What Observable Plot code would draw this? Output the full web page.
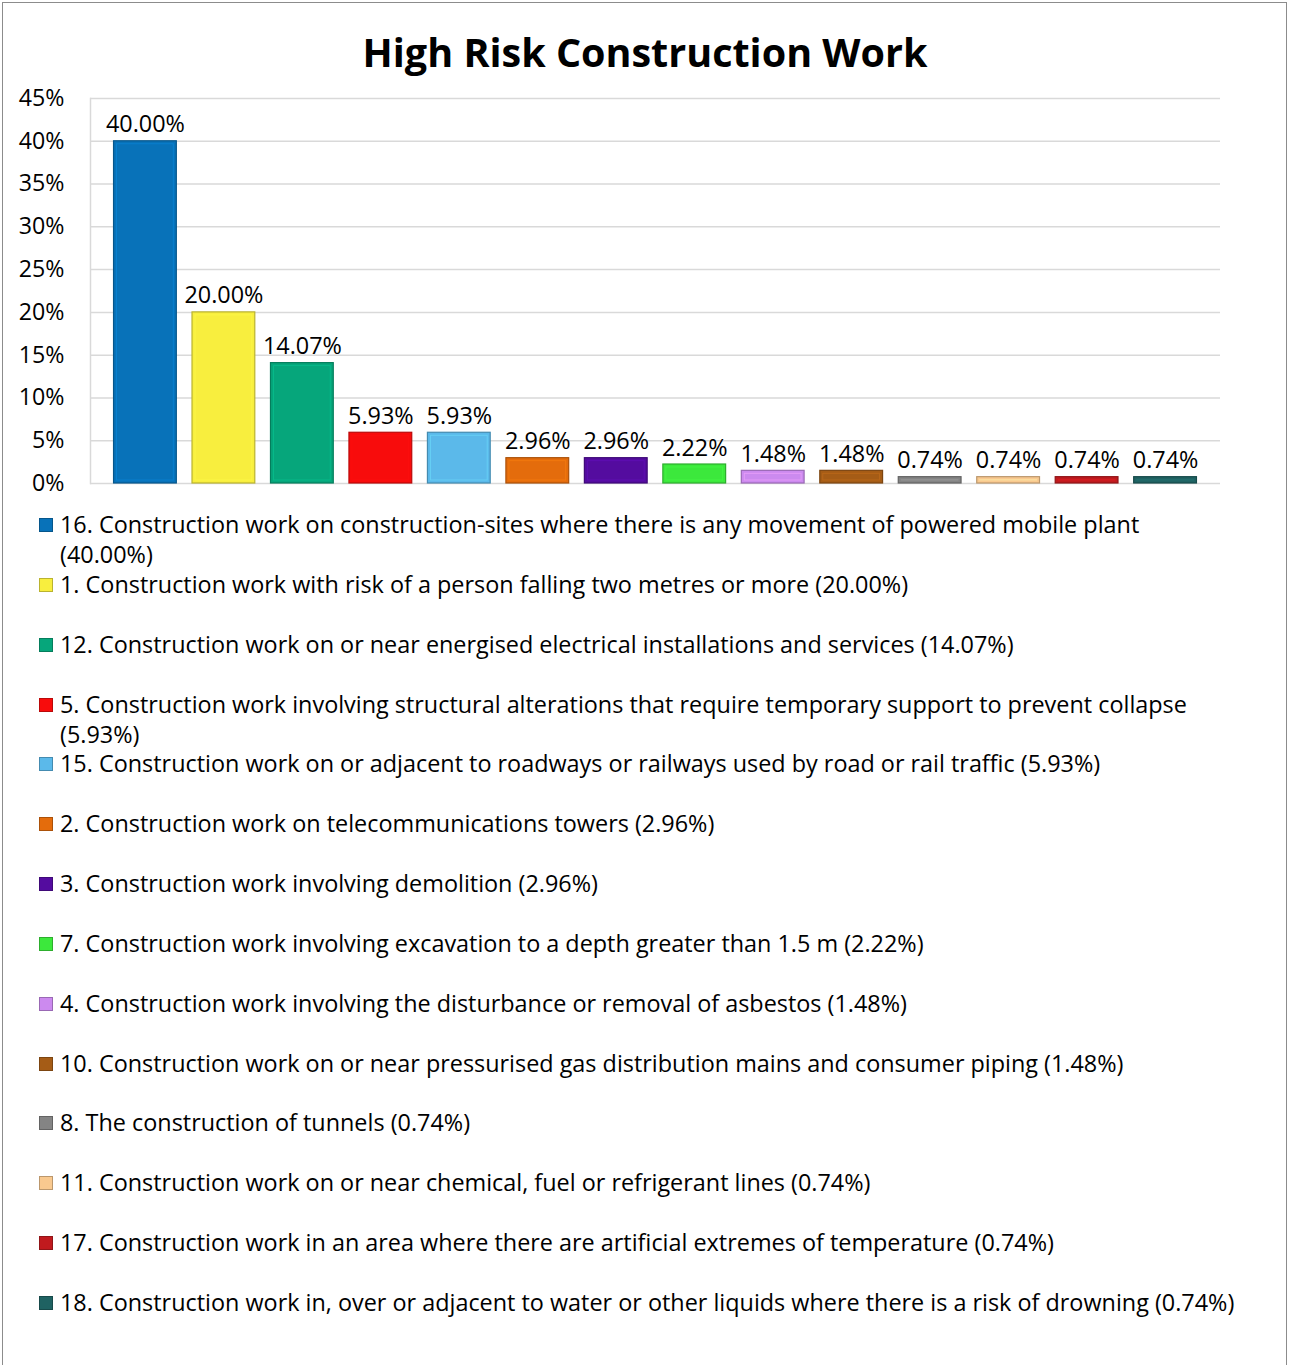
<!DOCTYPE html>
<html><head><meta charset="utf-8">
<script src="https://cdn.jsdelivr.net/npm/d3@7"></script>
<script src="https://cdn.jsdelivr.net/npm/@observablehq/plot@0.6"></script>
<style>
html,body{margin:0;padding:0;background:#fff;}
body{font-family:"Open Sans",Lato,sans-serif;color:#000;}
#page{position:relative;width:1290px;height:1365px;overflow:hidden;}
#box{position:absolute;left:2px;top:2px;width:1285px;height:1400px;border:1px solid #8c8c8c;box-sizing:border-box;}
#title{position:absolute;left:0;width:1290px;top:26px;text-align:center;font-weight:bold;font-size:39.5px;line-height:52px;}
#svgwrap{position:absolute;left:0;top:0;}
#legend{position:absolute;left:39px;top:509px;width:1230px;}
.item{position:relative;height:59.85px;}
.sw{position:absolute;left:0;top:9px;width:14px;height:14px;box-sizing:border-box;}
.txt{position:absolute;left:21px;top:0;width:1178px;font-size:23.4px;line-height:30px;}
</style>
</head><body>
<div id="page">
  <div id="box"></div>
  <div id="title">High Risk Construction Work</div>
  <div id="svgwrap"></div>
  <div id="legend"></div>
</div>
<script>
const categories = [
  "16. Construction work on construction-sites where there is any movement of powered mobile plant",
  "1. Construction work with risk of a person falling two metres or more",
  "12. Construction work on or near energised electrical installations and services",
  "5. Construction work involving structural alterations that require temporary support to prevent collapse",
  "15. Construction work on or adjacent to roadways or railways used by road or rail traffic",
  "2. Construction work on telecommunications towers",
  "3. Construction work involving demolition",
  "7. Construction work involving excavation to a depth greater than 1.5 m",
  "4. Construction work involving the disturbance or removal of asbestos",
  "10. Construction work on or near pressurised gas distribution mains and consumer piping",
  "8. The construction of tunnels",
  "11. Construction work on or near chemical, fuel or refrigerant lines",
  "17. Construction work in an area where there are artificial extremes of temperature",
  "18. Construction work in, over or adjacent to water or other liquids where there is a risk of drowning"
];
const values = [0.4000, 0.2000, 0.1407, 0.0593, 0.0593, 0.0296, 0.0296, 0.0222, 0.0148, 0.0148, 0.0074, 0.0074, 0.0074, 0.0074];
const colors = ["#0872b9","#f8ee3e","#06a67b","#f80c0c","#5bb9ea","#e46c0c","#540c9f","#3ce83c","#cc8aef","#a55c16","#848484","#f9c98f","#c01a1e","#1f6262"];
const yTicks = [0, 0.05, 0.10, 0.15, 0.20, 0.25, 0.30, 0.35, 0.40, 0.45];

const data = categories.map((c, i) => ({cat: c, value: values[i], color: colors[i]}));
const pct2 = d3.format(".2%");

const plot = Plot.plot({
  width: 1290,
  height: 500,
  marginLeft: 90,
  marginRight: 70,
  marginTop: 98,
  marginBottom: 17,
  style: {fontFamily: "'Open Sans', Lato, sans-serif", fontSize: "23px", color: "#000", background: "transparent"},
  x: {domain: categories, paddingInner: 0.2, paddingOuter: 0.3, round: false, axis: null},
  y: {domain: [0, 0.45], axis: null},
  marks: [
    Plot.gridY(yTicks, {stroke: "#d9d9d9", strokeOpacity: 1, strokeWidth: 1.5}),
    Plot.frame({anchor: "left", stroke: "#d9d9d9", strokeWidth: 1.5}),
    Plot.axisY(yTicks, {tickFormat: d3.format(".0%"), tickSize: 0, tickPadding: 26, fontSize: 23.2, fill: "#000", label: null}),
    Plot.barY(data, {x: "cat", y: "value", fill: d => d.color, stroke: d => d3.color(d.color).darker(0.8).formatHex(), strokeWidth: 1.2}),
    Plot.barY(data, {x: "cat", y: "value", fill: "none", stroke: d => d3.color(d.color).brighter(0.6).formatHex(), strokeWidth: 1, inset: 3, strokeOpacity: 0.5}),
    Plot.text(data, {x: "cat", y: "value", text: d => pct2(d.value), lineAnchor: "bottom", dy: -9, fontSize: 23.4, fill: "#000"})
  ]
});
document.getElementById("svgwrap").appendChild(plot);

const legend = document.getElementById("legend");
data.forEach(d => {
  const item = document.createElement("div");
  item.className = "item";
  const sw = document.createElement("div");
  sw.className = "sw";
  sw.style.background = d.color;
  sw.style.border = "1px solid " + d3.color(d.color).darker(0.8).formatHex();
  const t = document.createElement("div");
  t.className = "txt";
  t.textContent = d.cat + " (" + pct2(d.value) + ")";
  item.appendChild(sw);
  item.appendChild(t);
  legend.appendChild(item);
});
</script>
</body></html>
